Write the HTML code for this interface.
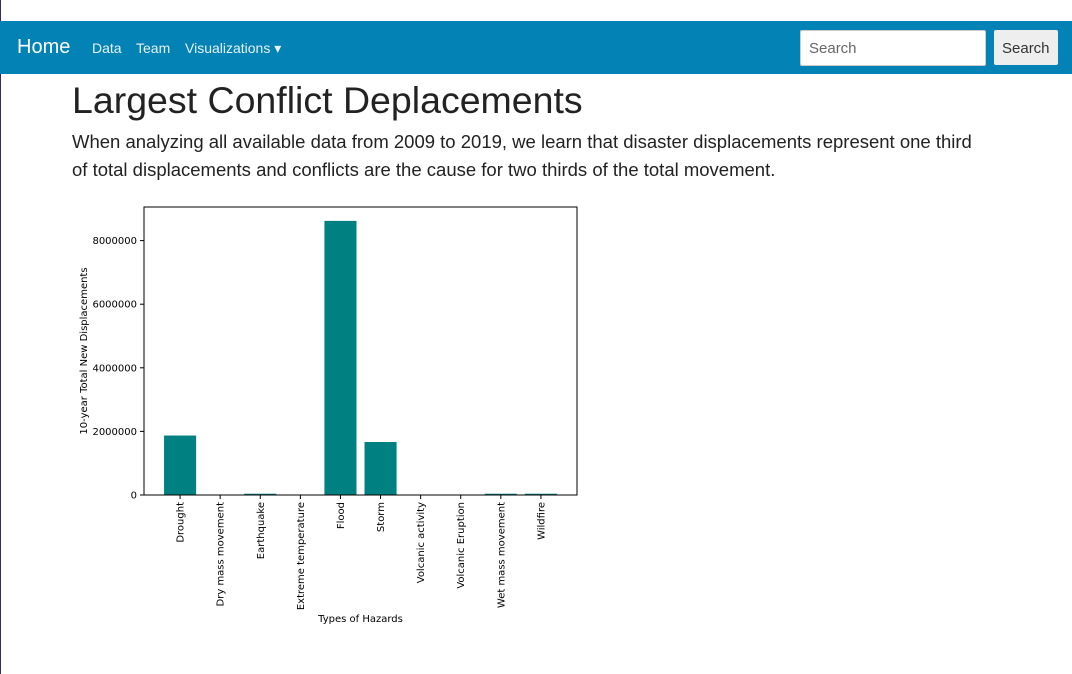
<!DOCTYPE html>
<html><head><meta charset="utf-8"><style>
body{margin:0;width:1072px;height:674px;background:#fff;position:relative;overflow:hidden;font-family:"Liberation Sans",sans-serif;}
.nav{position:absolute;left:0;top:21px;width:1072px;height:53px;background:#0382b5;}
.nav span{position:absolute;color:#e6f2f8;}
h1{position:absolute;left:72px;top:79px;margin:0;font-weight:300;font-size:37.5px;color:#222;}
p{position:absolute;left:72px;top:128px;margin:0;width:920px;font-size:18.5px;line-height:28px;color:#222;font-weight:300;}
</style></head><body>
<div style="position:absolute;left:0;top:0;width:1px;height:674px;background:#3a2a5a"></div>
<div class="nav">
<span style="left:17px;top:15px;font-size:20px;color:#fff">Home</span>
<span style="left:92px;top:19px;font-size:14px">Data</span>
<span style="left:136px;top:19px;font-size:14px">Team</span>
<span style="left:185px;top:19px;font-size:14px">Visualizations ▾</span>
<div style="position:absolute;left:800px;top:9px;width:184px;height:34px;background:#fff;border:1px solid #ccc;border-radius:2px;"><span style="position:absolute;left:8px;top:9px;color:#666;font-size:15px">Search</span></div>
<div style="position:absolute;left:994px;top:9px;width:64px;height:35px;background:#eee;border-radius:2px;"><span style="position:absolute;left:8px;top:10px;color:#333;font-size:15px">Search</span></div>
</div>
<h1>Largest Conflict Deplacements</h1>
<p>When analyzing all available data from 2009 to 2019, we learn that disaster displacements represent one third of total displacements and conflicts are the cause for two thirds of the total movement.</p>
<svg id="chart" width="1072" height="674" style="position:absolute;left:0;top:0" font-family="DejaVu Sans, sans-serif" font-size="10"></svg>
<script>
const categories=["Drought","Dry mass movement","Earthquake","Extreme temperature","Flood","Storm","Volcanic activity","Volcanic Eruption","Wet mass movement","Wildfire"];
const values=[1870000,2000,40000,1000,8620000,1667000,1000,1000,40000,40000];
const yTicks=[0,2000000,4000000,6000000,8000000];
const yTickLabels=["0","2000000","4000000","6000000","8000000"];
const svg=document.getElementById('chart');
const NS='http://www.w3.org/2000/svg';
const L=144,R=577,T=207,B=495;
const unit=(R-L)/(categories.length-1+1.8);
const x=i=>L+(i+0.9)*unit;
const y=v=>B-v*(254.4/8000000);
function mk(t,a){const e=document.createElementNS(NS,t);for(const k in a)e.setAttribute(k,a[k]);svg.appendChild(e);return e;}
categories.forEach((c,i)=>{
 const r=mk('rect',{x:x(i)-0.4*unit,y:y(values[i]),width:0.8*unit,height:B-y(values[i]),fill:'#008080'});
 
 
 mk('line',{x1:x(i),x2:x(i),y1:B,y2:B+4,stroke:'#000'});
 const t=mk('text',{x:0,y:0,transform:`translate(${x(i)+3.5},${B+7}) rotate(-90)`,'text-anchor':'end'});
 t.textContent=c;
 
 
});
yTicks.forEach((v,i)=>{
 mk('line',{x1:L-4,x2:L,y1:y(v),y2:y(v),stroke:'#000'});
 const t=mk('text',{x:L-7,y:y(v)+3.5,'text-anchor':'end'});
 t.textContent=yTickLabels[i];
 
 
});
const f=mk('rect',{x:L,y:T,width:R-L,height:B-T,fill:'none',stroke:'#000','stroke-width':1});


const xt=mk('text',{x:(L+R)/2,y:622,'text-anchor':'middle'});xt.textContent='Types of Hazards';


const yt=mk('text',{x:0,y:0,transform:`translate(87,${(T+B)/2}) rotate(-90)`,'text-anchor':'middle'});yt.textContent='10-year Total New Displacements';


</script>
</body></html>
